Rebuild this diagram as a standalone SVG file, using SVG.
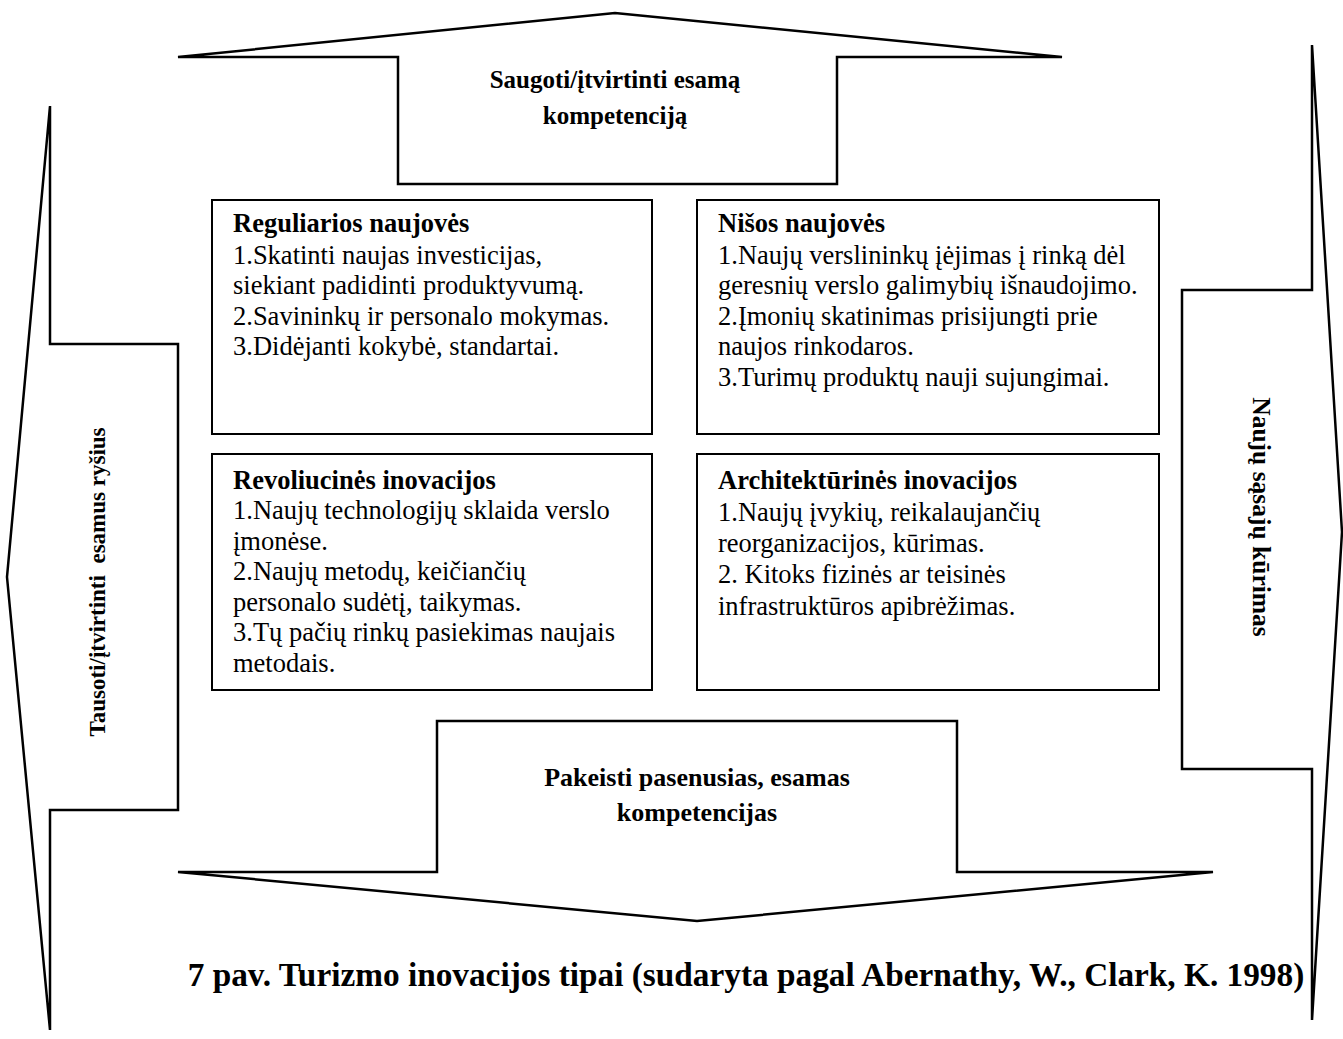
<svg xmlns="http://www.w3.org/2000/svg" width="1343" height="1039" viewBox="0 0 1343 1039">
  <style>
    .arrow { fill: none; stroke: #000; stroke-width: 2.5; stroke-linejoin: miter; }
    .box { fill: #fff; stroke: #000; stroke-width: 2; }
    .lbl { font-family: "Liberation Serif", "Times New Roman", serif; font-weight: bold; font-size: 26px; fill: #000; }
    .lbl-top { font-size: 25px; }
    .side-l { font-size: 23px; }
    .side-r { font-size: 25.5px; }
    .title { font-family: "Liberation Serif", "Times New Roman", serif; font-weight: bold; font-size: 26.5px; fill: #000; }
    .body { font-family: "Liberation Serif", "Times New Roman", serif; font-size: 26.5px; fill: #000; }
    .caption { font-family: "Liberation Serif", "Times New Roman", serif; font-weight: bold; font-size: 33.3px; fill: #000; }
  </style>
  <rect width="1343" height="1039" fill="#fff"/>

  <!-- block arrows framing the matrix -->
  <g id="connectors">
    <g id="arrow-top">
      <polygon class="arrow" points="178,57 615,13 1062,57 837,57 837,184 398,184 398,57"/>
      <text class="lbl lbl-top" x="615" y="88" text-anchor="middle">Saugoti/įtvirtinti esamą</text>
      <text class="lbl lbl-top" x="615" y="124" text-anchor="middle">kompetenciją</text>
    </g>
    <g id="arrow-left">
      <polygon class="arrow" points="50,106 50,344 178,344 178,810 50,810 50,1030 7,577"/>
      <text class="lbl side-l" transform="translate(105,582) rotate(-90)" text-anchor="middle" xml:space="preserve">Tausoti/įtvirtinti  esamus ryšius</text>
    </g>
    <g id="arrow-right">
      <polygon class="arrow" points="1312,45 1342,532 1312,1020 1312,769 1182,769 1182,290 1312,290"/>
      <text class="lbl side-r" transform="translate(1253,517) rotate(90)" text-anchor="middle">Naujų sąsajų kūrimas</text>
    </g>
    <g id="arrow-bottom">
      <polygon class="arrow" points="178,872 437,872 437,721 957,721 957,872 1213,872 697,921"/>
      <text class="lbl" x="697" y="786" text-anchor="middle">Pakeisti pasenusias, esamas</text>
      <text class="lbl" x="697" y="821" text-anchor="middle">kompetencijas</text>
    </g>
  </g>

  <!-- four innovation quadrants -->
  <g id="node-regular">
    <rect class="box" x="212" y="200" width="440" height="234"/>
    <text class="title" x="233" y="232">Reguliarios naujovės</text>
    <text class="body" x="233" y="264">1.Skatinti naujas investicijas,</text>
    <text class="body" x="233" y="294">siekiant padidinti produktyvumą.</text>
    <text class="body" x="233" y="325">2.Savininkų ir personalo mokymas.</text>
    <text class="body" x="233" y="355">3.Didėjanti kokybė, standartai.</text>
  </g>

  <g id="node-niche">
    <rect class="box" x="697" y="200" width="462" height="234"/>
    <text class="title" x="718" y="232">Nišos naujovės</text>
    <text class="body" x="718" y="264">1.Naujų verslininkų įėjimas į rinką dėl</text>
    <text class="body" x="718" y="294">geresnių verslo galimybių išnaudojimo.</text>
    <text class="body" x="718" y="325">2.Įmonių skatinimas prisijungti prie</text>
    <text class="body" x="718" y="355">naujos rinkodaros.</text>
    <text class="body" x="718" y="386">3.Turimų produktų nauji sujungimai.</text>
  </g>

  <g id="node-revolutionary">
    <rect class="box" x="212" y="454" width="440" height="236"/>
    <text class="title" x="233" y="489">Revoliucinės inovacijos</text>
    <text class="body" x="233" y="519">1.Naujų technologijų sklaida verslo</text>
    <text class="body" x="233" y="550">įmonėse.</text>
    <text class="body" x="233" y="580">2.Naujų metodų, keičiančių</text>
    <text class="body" x="233" y="611">personalo sudėtį, taikymas.</text>
    <text class="body" x="233" y="641">3.Tų pačių rinkų pasiekimas naujais</text>
    <text class="body" x="233" y="672">metodais.</text>
  </g>

  <g id="node-architectural">
    <rect class="box" x="697" y="454" width="462" height="236"/>
    <text class="title" x="718" y="489">Architektūrinės inovacijos</text>
    <text class="body" x="718" y="521">1.Naujų įvykių, reikalaujančių</text>
    <text class="body" x="718" y="552">reorganizacijos, kūrimas.</text>
    <text class="body" x="718" y="583">2. Kitoks fizinės ar teisinės</text>
    <text class="body" x="718" y="615">infrastruktūros apibrėžimas.</text>
  </g>

  <g id="caption">
    <text class="caption" x="746" y="986" text-anchor="middle">7 pav. Turizmo inovacijos tipai (sudaryta pagal Abernathy, W., Clark, K. 1998)</text>
  </g>
</svg>
